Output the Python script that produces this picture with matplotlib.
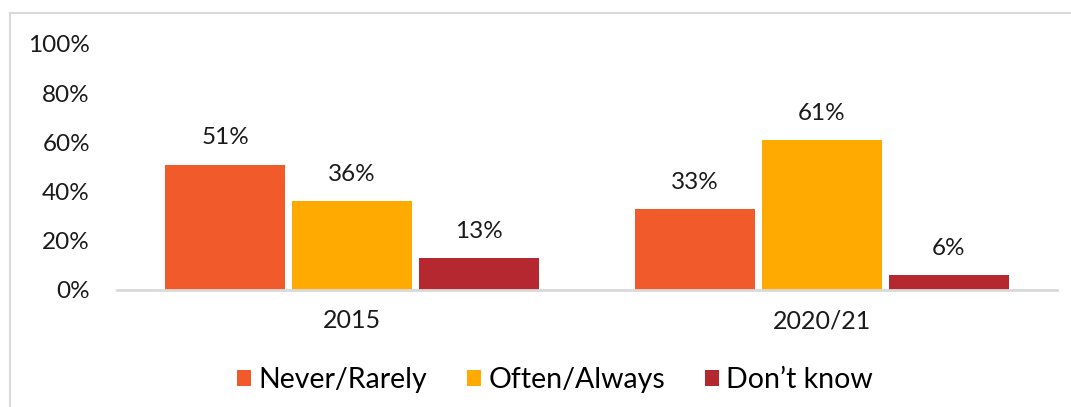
import matplotlib.pyplot as plt
from matplotlib.patches import Rectangle
import numpy as np

# data dari grafik
tahun = ["2015", "2020/21"]
kategori = ["Never/Rarely", "Often/Always", "Don\u2019t know"]
nilai = {
    "Never/Rarely": [51, 33],
    "Often/Always": [36, 61],
    "Don\u2019t know": [13, 6],
}
warna = ["#F15A2B", "#FFAA00", "#B5282F"]

plt.rcParams['font.family'] = ['Lato', 'DejaVu Sans']

fig = plt.figure(figsize=(10.71, 4.07), dpi=100)
ax = fig.add_axes([117/1071, 1 - 290/407, 940/1071, 246/407])

# bingkai abu-abu tipis seperti di Excel
fig.patches.append(Rectangle((10/1071, -0.05), 1.2, 1 - 13/407 + 0.05,
                             transform=fig.transFigure, fill=False,
                             edgecolor="#D9D9D9", linewidth=1.5))

x = np.arange(len(tahun))
lebar = 0.255
jarak = 0.27
for i, k in enumerate(kategori):
    pos = x + (i - 1) * jarak
    bars = ax.bar(pos, np.array(nilai[k]) / 100, lebar, color=warna[i], label=k)
    for b, v in zip(bars, nilai[k]):
        ax.text(b.get_x() + b.get_width() / 2, v / 100 + 0.108, f"{v}%",
                ha="center", va="center", fontsize=17.5, color="#1a1a1a")

ax.set_xlim(-0.5, 1.5)
ax.set_ylim(0, 1)
ax.set_yticks([0, 0.2, 0.4, 0.6, 0.8, 1.0])
ax.set_yticklabels(["0%", "20%", "40%", "60%", "80%", "100%"])
ax.set_xticks(x)
ax.set_xticklabels(tahun)
ax.tick_params(axis="y", length=0, pad=19.5, labelsize=17.5, labelcolor="#1a1a1a")
ax.tick_params(axis="x", length=0, pad=14, labelsize=18, labelcolor="#1a1a1a")
for s in ["top", "right", "left"]:
    ax.spines[s].set_visible(False)
ax.spines["bottom"].set_color("#D9D9D9")
ax.spines["bottom"].set_linewidth(2)

fig.legend(loc="center", bbox_to_anchor=(555/1071, 1 - 380/407), ncol=3,
           frameon=False, fontsize=20.5, handlelength=0.5, handleheight=0.5,
           handletextpad=0.25, columnspacing=1.4)

fig.savefig("out.png", dpi=100)
